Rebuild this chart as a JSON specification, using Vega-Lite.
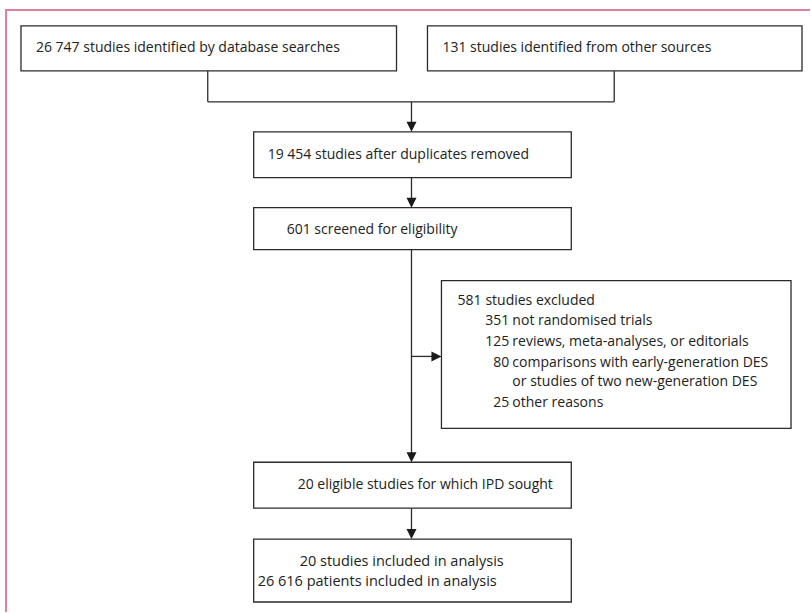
{
  "$schema": "https://vega.github.io/schema/vega-lite/v6.json",
  "width": 811,
  "height": 613,
  "padding": 0,
  "autosize": {"type": "fit", "contains": "padding"},
  "background": "white",
  "config": {"view": {"stroke": null}},
  "datasets": {
    "frame": [
      {"x": 5, "x2": 811, "y": 10, "y2": 10},
      {"x": 6, "x2": 6, "y": 10, "y2": 613}
    ],
    "boxes": [
      {"id": "search", "x": 21, "x2": 397, "y": 26, "y2": 71},
      {"id": "other", "x": 428, "x2": 803, "y": 26, "y2": 71},
      {"id": "dedup", "x": 254, "x2": 572, "y": 132, "y2": 178},
      {"id": "screen", "x": 254, "x2": 572, "y": 208, "y2": 250},
      {"id": "excluded", "x": 442, "x2": 792, "y": 281, "y2": 429},
      {"id": "eligible", "x": 254, "x2": 572, "y": 463, "y2": 509},
      {"id": "included", "x": 254, "x2": 572, "y": 540, "y2": 603}
    ],
    "links": [
      {"x": 208, "x2": 208, "y": 71, "y2": 102},
      {"x": 615, "x2": 615, "y": 71, "y2": 102},
      {"x": 208, "x2": 615, "y": 102, "y2": 102},
      {"x": 412, "x2": 412, "y": 102, "y2": 128},
      {"x": 412, "x2": 412, "y": 178, "y2": 204},
      {"x": 412, "x2": 412, "y": 250, "y2": 459},
      {"x": 412, "x2": 438, "y": 357, "y2": 357},
      {"x": 412, "x2": 412, "y": 509, "y2": 536}
    ],
    "arrowsDown": [
      {"x": 412, "y": 132},
      {"x": 412, "y": 208},
      {"x": 412, "y": 463},
      {"x": 412, "y": 540}
    ],
    "arrowsRight": [
      {"x": 442, "y": 357}
    ],
    "labels": [
      {"x": 36, "y": 52, "text": "26 747 studies identified by database searches"},
      {"x": 443, "y": 52, "text": "131 studies identified from other sources"},
      {"x": 268, "y": 159, "text": "19 454 studies after duplicates removed"},
      {"x": 287, "y": 234, "text": "601 screened for eligibility"},
      {"x": 298, "y": 490, "text": "20 eligible studies for which IPD sought"}
    ],
    "included": [
      {"x": 300, "y": 567, "text": "20 studies included in analysis"},
      {"x": 258, "y": 587, "text": "26 616 patients included in analysis"}
    ],
    "exclNumbers": [
      {"x": 482, "y": 305, "text": "581"},
      {"x": 510, "y": 326, "text": "351"},
      {"x": 510, "y": 347, "text": "125"},
      {"x": 510, "y": 368, "text": "80"},
      {"x": 510, "y": 408, "text": "25"}
    ],
    "exclReasons": [
      {"x": 486, "y": 305, "text": "studies excluded"},
      {"x": 513, "y": 326, "text": "not randomised trials"},
      {"x": 513, "y": 347, "text": "reviews, meta-analyses, or editorials"},
      {"x": 513, "y": 368, "text": "comparisons with early-generation DES"},
      {"x": 513, "y": 387, "text": "or studies of two new-generation DES"},
      {"x": 513, "y": 408, "text": "other reasons"}
    ]
  },
  "encoding": {
    "x": {"field": "x", "type": "quantitative", "axis": null,
          "scale": {"domain": [0, 811], "nice": false, "zero": false}},
    "y": {"field": "y", "type": "quantitative", "axis": null,
          "scale": {"domain": [0, 613], "nice": false, "zero": false, "reverse": true}}
  },
  "layer": [
    {
      "data": {"name": "frame"},
      "mark": {"type": "rule", "color": "#de7f9b", "strokeWidth": 2},
      "encoding": {"x2": {"field": "x2"}, "y2": {"field": "y2"}}
    },
    {
      "data": {"name": "links"},
      "mark": {"type": "rule", "color": "#2b2b2b", "strokeWidth": 1.3},
      "encoding": {"x2": {"field": "x2"}, "y2": {"field": "y2"}}
    },
    {
      "data": {"name": "boxes"},
      "mark": {"type": "rect", "fill": "white", "stroke": "#2b2b2b", "strokeWidth": 1.3},
      "encoding": {"x2": {"field": "x2"}, "y2": {"field": "y2"}}
    },
    {
      "data": {"name": "arrowsDown"},
      "mark": {"type": "point", "shape": "M-1,-2L1,-2L0,0Z", "filled": true,
               "color": "#1a1a1a", "opacity": 1, "size": 100}
    },
    {
      "data": {"name": "arrowsRight"},
      "mark": {"type": "point", "shape": "M-2,-1L-2,1L0,0Z", "filled": true,
               "color": "#1a1a1a", "opacity": 1, "size": 100}
    },
    {
      "data": {"name": "labels"},
      "mark": {"type": "text", "align": "left", "baseline": "alphabetic",
               "font": "Open Sans", "fontSize": 14, "color": "#222"},
      "encoding": {"text": {"field": "text"}}
    },
    {
      "data": {"name": "included"},
      "mark": {"type": "text", "align": "left", "baseline": "alphabetic",
               "font": "Open Sans", "fontSize": 14.5, "color": "#222"},
      "encoding": {"text": {"field": "text"}}
    },
    {
      "data": {"name": "exclNumbers"},
      "mark": {"type": "text", "align": "right", "baseline": "alphabetic",
               "font": "Open Sans", "fontSize": 14, "color": "#222"},
      "encoding": {"text": {"field": "text"}}
    },
    {
      "data": {"name": "exclReasons"},
      "mark": {"type": "text", "align": "left", "baseline": "alphabetic",
               "font": "Open Sans", "fontSize": 14, "color": "#222"},
      "encoding": {"text": {"field": "text"}}
    }
  ]
}
